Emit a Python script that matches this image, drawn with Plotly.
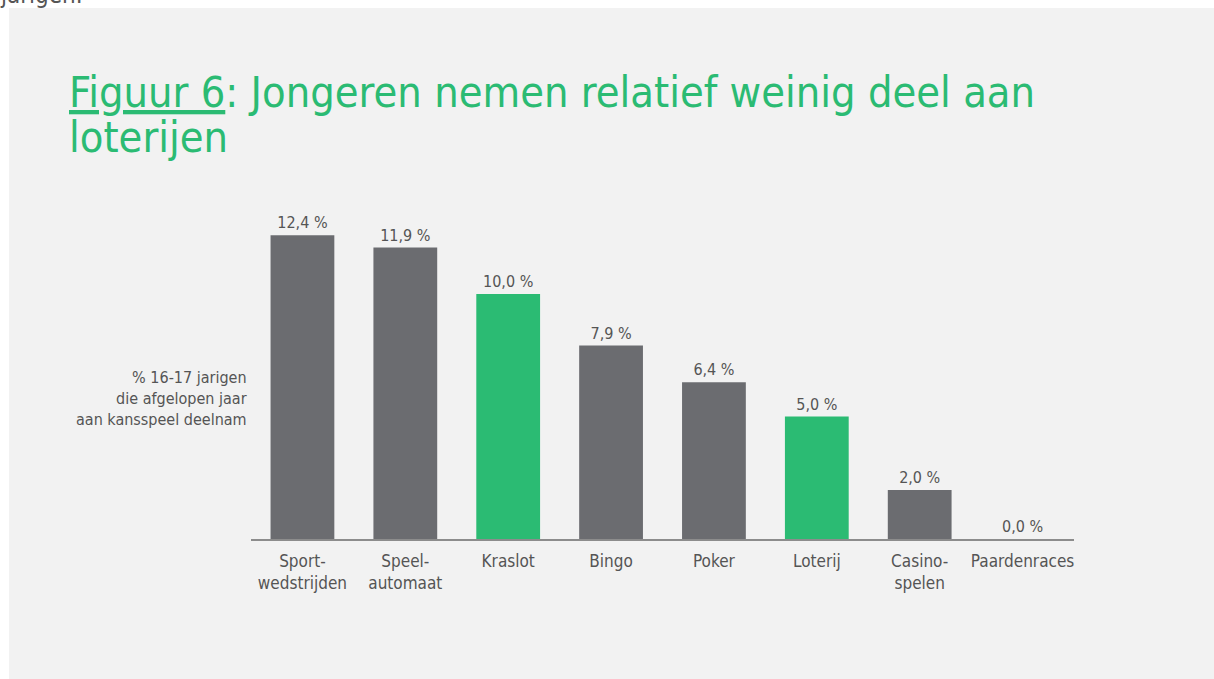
import plotly.graph_objects as go

categories = ["Sport-<br>wedstrijden", "Speel-<br>automaat", "Kraslot", "Bingo",
              "Poker", "Loterij", "Casino-<br>spelen", "Paardenraces"]
values = [12.4, 11.9, 10.0, 7.9, 6.4, 5.0, 2.0, 0.0]
highlight = [False, False, True, False, False, True, False, False]
value_labels = ["12,4 %", "11,9 %", "10,0 %", "7,9 %", "6,4 %", "5,0 %", "2,0 %", "0,0 %"]

GRAY = "#6b6c70"
GREEN = "#2bbb73"
TEXT = "#555555"
FONT = "DejaVu Sans Condensed, DejaVu Sans, sans-serif"

W, H = 1214, 679
L, R, T, B = 251, 140, 200, 140

colors = [GREEN if h else GRAY for h in highlight]

fig = go.Figure(go.Bar(
    x=categories, y=values, marker=dict(color=colors, line=dict(width=0)),
    text=value_labels, textposition="outside", cliponaxis=False,
    textfont=dict(size=16, color=TEXT, family=FONT),
))

def px_x(p):
    return (p - L) / (W - L - R)

def px_y(p):
    return (H - B - p) / (H - T - B)

fig.add_shape(type="rect", xref="paper", yref="paper",
              x0=px_x(9), x1=px_x(W + 5), y0=px_y(8), y1=px_y(H + 5),
              fillcolor="#f2f2f2", line=dict(width=0), layer="below")

fig.add_annotation(xref="paper", yref="paper", x=px_x(67), y=px_y(65),
                   xanchor="left", yanchor="top", align="left",
                   text="<u>Figuur 6</u>: Jongeren nemen relatief weinig deel aan",
                   showarrow=False, font=dict(size=43, color=GREEN, family=FONT))
fig.add_annotation(xref="paper", yref="paper", x=px_x(67), y=px_y(110),
                   xanchor="left", yanchor="top", align="left",
                   text="loterijen",
                   showarrow=False, font=dict(size=43, color=GREEN, family=FONT))

fig.add_annotation(xref="paper", yref="paper", x=px_x(-2), y=px_y(11),
                   xanchor="left", yanchor="bottom", align="left",
                   text="jarigen.", showarrow=False,
                   font=dict(size=24, color=TEXT, family=FONT))

fig.add_annotation(xref="paper", yref="paper", x=px_x(249), y=px_y(398),
                   xanchor="right", yanchor="middle", align="right",
                   text="% 16-17 jarigen<br>die afgelopen jaar<br>aan kansspeel deelnam",
                   showarrow=False, font=dict(size=16, color=TEXT, family=FONT))

fig.update_layout(
    width=W, height=H,
    margin=dict(l=L, r=R, t=T, b=B),
    paper_bgcolor="white", plot_bgcolor="rgba(0,0,0,0)",
    bargap=0.38, showlegend=False,
    font=dict(family=FONT, color=TEXT),
)
fig.update_xaxes(showline=True, linecolor="#8c8c8c", linewidth=1.5,
                 ticks="", ticklabelstandoff=6,
                 tickfont=dict(size=17, color=TEXT, family=FONT),
                 showgrid=False, fixedrange=True)
fig.update_yaxes(range=[0, 13.84], visible=False, showgrid=False, zeroline=False)

fig.write_html("out.html", config={"displayModeBar": False},
               post_script="document.body.style.margin='0';document.body.style.overflow='hidden';")
